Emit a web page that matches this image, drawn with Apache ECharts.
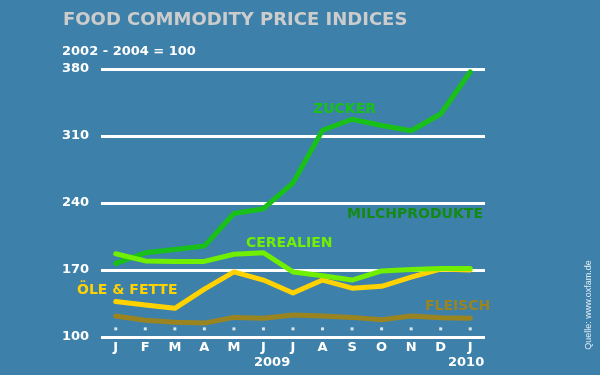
<!DOCTYPE html>
<html>
<head>
<meta charset="utf-8">
<script src="https://cdn.jsdelivr.net/npm/echarts@6/dist/echarts.min.js"></script>
<style>
  html, body { margin: 0; padding: 0; background: #3d81aa; }
  #chart { width: 600px; height: 375px; }
</style>
</head>
<body>
<div id="chart"></div>
<script>
// index values, 2002-2004 = 100, Jan 2009 - Jan 2010
const months = ["J", "F", "M", "A", "M", "J", "J", "A", "S", "O", "N", "D", "J"]
const zucker = [177, 188, 191.5, 195, 229, 234, 261, 316, 327.5, 321, 315.5, 333, 377]
const cerealien = [187, 179.5, 179, 179, 186.5, 188, 168, 164, 159.5, 169, 170.5, 171.5, 171.5]
const oeleFette = [137, 133.5, 130, 150, 168, 159.5, 146, 159.5, 151, 153, 162.5, 171, 170]
const fleisch = [122, 117.5, 115.5, 114.5, 120.5, 119.5, 123, 122, 120.5, 118, 122, 120, 119.5]
const yTicks = [100, 170, 240, 310, 380]
const dotLevel = 108.5

const font = "DejaVu Sans"
const chart = echarts.init(document.getElementById("chart"))

const label = (text, x, y, color, size = 14) => ({
  type: "text", x, y,
  style: { text, fill: color, font: `bold ${size}px "${font}"`, textVerticalAlign: "middle" },
})

const line = (name, data, color, z) => ({
  name, type: "line", data, z,
  symbol: "none",
  lineStyle: { color, width: 5, cap: "round", join: "round" },
  animation: false,
})

chart.setOption({
  backgroundColor: "#3d81aa",
  animation: false,
  grid: { left: 101, right: 115, top: 69, bottom: 38 },
  xAxis: {
    type: "category",
    data: months,
    boundaryGap: true,
    axisLine: { show: false },
    axisTick: { show: false },
    axisLabel: { color: "#fff", fontFamily: font, fontWeight: "bold", fontSize: 13, margin: 4 },
  },
  yAxis: {
    type: "value",
    min: yTicks[0],
    max: yTicks[yTicks.length - 1],
    interval: 70,
    axisLine: { show: false },
    axisTick: { show: false },
    axisLabel: { color: "#fff", fontFamily: font, fontWeight: "bold", fontSize: 13, align: "left", margin: 39 },
    splitLine: { lineStyle: { color: "#fff", width: 3 } },
  },
  graphic: [
    label("FOOD COMMODITY PRICE INDICES", 63, 20, "#cccccc", 18),
    label("2002 - 2004 = 100", 62, 52, "#fff", 13),
    label("ZUCKER", 313, 109, "#18c018"),
    label("MILCHPRODUKTE", 347, 214, "#138a13"),
    label("CEREALIEN", 246, 243, "#70f000"),
    label("ÖLE & FETTE", 77, 290, "#ffd200"),
    label("FLEISCH", 425, 306, "#9a8420"),
    label("2009", 254, 363, "#fff", 13),
    label("2010", 448, 363, "#fff", 13),
    {
      type: "text", x: 589, y: 305, rotation: Math.PI / 2,
      style: {
        text: "Quelle: www.oxfam.de", fill: "#e4eef5", font: '9px "Liberation Sans"',
        textAlign: "center", textVerticalAlign: "middle",
      },
    },
  ],
  series: [
    line("Fleisch", fleisch, "#9a8420", 2),
    line("Zucker", zucker, "#18c018", 3),
    line("Öle & Fette", oeleFette, "#ffd200", 4),
    line("Cerealien", cerealien, "#70f000", 5),
    {
      type: "scatter",
      data: months.map(() => dotLevel),
      symbol: "rect",
      symbolSize: [3, 3],
      itemStyle: { color: "#fff" },
      silent: true,
    },
  ],
})
</script>
</body>
</html>
